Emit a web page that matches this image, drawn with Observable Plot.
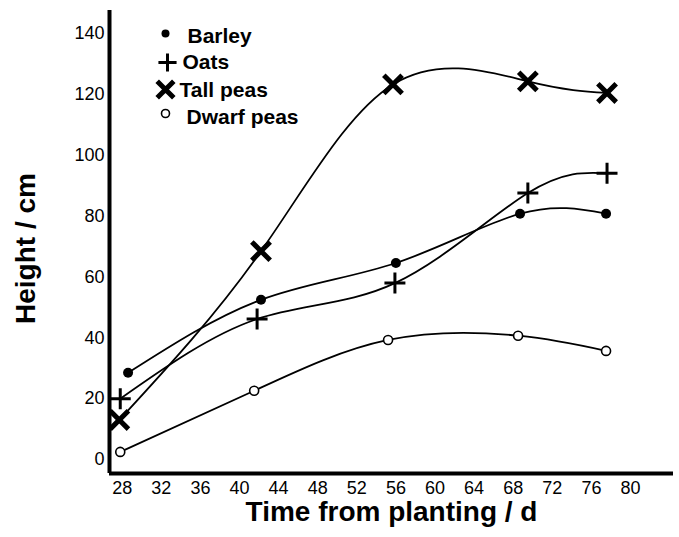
<!DOCTYPE html>
<html>
<head>
<meta charset="utf-8">
<script src="https://cdn.jsdelivr.net/npm/d3@7"></script>
<script src="https://cdn.jsdelivr.net/npm/@observablehq/plot@0.6"></script>
<style>
  body { margin: 0; background: #fff; }
  svg { display: block; }
</style>
</head>
<body>
<div id="chart"></div>
<script>
// Data
const barleyDays = [28.6, 42.2, 56.0, 68.7, 77.5];
const barleyHeights = [28.5, 52.5, 64.6, 80.8, 80.8];
const oatsDays = [27.8, 41.8, 55.9, 69.5, 77.6];
const oatsHeights = [20.0, 46.2, 58.0, 87.6, 94.1];
const tallDays = [27.7, 42.2, 55.7, 69.5, 77.6];
const tallHeights = [13.0, 68.5, 123.3, 124.3, 120.5];
const dwarfDays = [27.8, 41.5, 55.2, 68.5, 77.5];
const dwarfHeights = [2.5, 22.6, 39.3, 40.7, 35.7];

const xTicks = [28, 32, 36, 40, 44, 48, 52, 56, 60, 64, 68, 72, 76, 80];
const yTicks = [0, 20, 40, 60, 80, 100, 120, 140];
const seriesNames = ["Barley", "Oats", "Tall peas", "Dwarf peas"];

const toRows = (days, heights) => days.map((d, i) => ({day: d, height: heights[i]}));
const barley = toRows(barleyDays, barleyHeights);
const oats = toRows(oatsDays, oatsHeights);
const tall = toRows(tallDays, tallHeights);
const dwarf = toRows(dwarfDays, dwarfHeights);

const xDomain = [26.7, 84.4];
const yDomain = [-4.6, 147.6];

const marginLeft = 109, marginTop = 10;

// marker styles per series
const markerStyles = [
  {symbol: "circle", r: 5, fill: "black", stroke: "none", strokeWidth: 0},
  {symbol: "plus", r: 6.8, fill: "none", stroke: "black", strokeWidth: 3},
  {symbol: "times", r: 8.4, fill: "none", stroke: "black", strokeWidth: 5},
  {symbol: "circle", r: 4.5, fill: "white", stroke: "black", strokeWidth: 1.6}
];
const legendMarkerStyles = [
  {symbol: "circle", r: 4, fill: "black", stroke: "none", strokeWidth: 0},
  {symbol: "plus", r: 5.9, fill: "none", stroke: "black", strokeWidth: 3},
  {symbol: "times", r: 7.6, fill: "none", stroke: "black", strokeWidth: 5},
  {symbol: "circle", r: 4, fill: "white", stroke: "black", strokeWidth: 1.6}
];
// legend placement (pixels, absolute in svg)
const legendMarkerPos = [[165, 33], [167, 62], [165, 89], [165, 113]];
const legendTextPos = [[187, 42], [182, 68], [179, 96], [186, 123]];

const datasets = [barley, oats, tall, dwarf];

const marks = [];
datasets.forEach(ds => {
  marks.push(Plot.line(ds, {x: "day", y: "height", curve: "natural", stroke: "black", strokeWidth: 1.8}));
});
datasets.forEach((ds, i) => {
  const s = markerStyles[i];
  marks.push(Plot.dot(ds, {x: "day", y: "height", symbol: () => s.symbol, r: s.r, fill: s.fill, stroke: s.stroke, strokeWidth: s.strokeWidth}));
});
// axis lines
marks.push(Plot.ruleX([xDomain[0]], {stroke: "black", strokeWidth: 4}));
marks.push(Plot.ruleY([yDomain[0]], {stroke: "black", strokeWidth: 4}));
// legend
seriesNames.forEach((name, i) => {
  const s = legendMarkerStyles[i];
  const [mx, my] = legendMarkerPos[i];
  const [tx, ty] = legendTextPos[i];
  marks.push(Plot.dot([name], {frameAnchor: "top-left", dx: mx - marginLeft, dy: my - marginTop,
    symbol: () => s.symbol, r: s.r, fill: s.fill, stroke: s.stroke, strokeWidth: s.strokeWidth}));
  marks.push(Plot.text([name], {frameAnchor: "top-left", dx: tx - marginLeft, dy: ty - marginTop,
    text: d => d, textAnchor: "start", lineAnchor: "bottom", fontSize: 21, fontWeight: "bold", fill: "black"}));
});
// axis titles
marks.push(Plot.text(["Time from planting / d"], {frameAnchor: "bottom", text: d => d, dy: 39, lineAnchor: "middle",
  textAnchor: "middle", fontSize: 28, fontWeight: "bold", fill: "black"}));
marks.push(Plot.text(["Height / cm"], {frameAnchor: "left", text: d => d, dx: -83, dy: 6.5, rotate: -90, lineAnchor: "middle",
  textAnchor: "middle", fontSize: 28, fontWeight: "bold", fill: "black"}));

const chart = Plot.plot({
  width: 679,
  height: 537,
  marginLeft: marginLeft,
  marginRight: 6,
  marginTop: marginTop,
  marginBottom: 64,
  style: {fontFamily: "'Liberation Sans', Arial, sans-serif", fontSize: "18px", background: "white", color: "black", overflow: "visible"},
  x: {domain: xDomain, ticks: xTicks, tickSize: 0, tickPadding: 8, label: null, tickFormat: d => String(d)},
  y: {domain: yDomain, ticks: yTicks, tickSize: 0, tickPadding: 5, label: null, tickFormat: d => String(d)},
  marks
});
document.getElementById("chart").appendChild(chart);
</script>
</body>
</html>
